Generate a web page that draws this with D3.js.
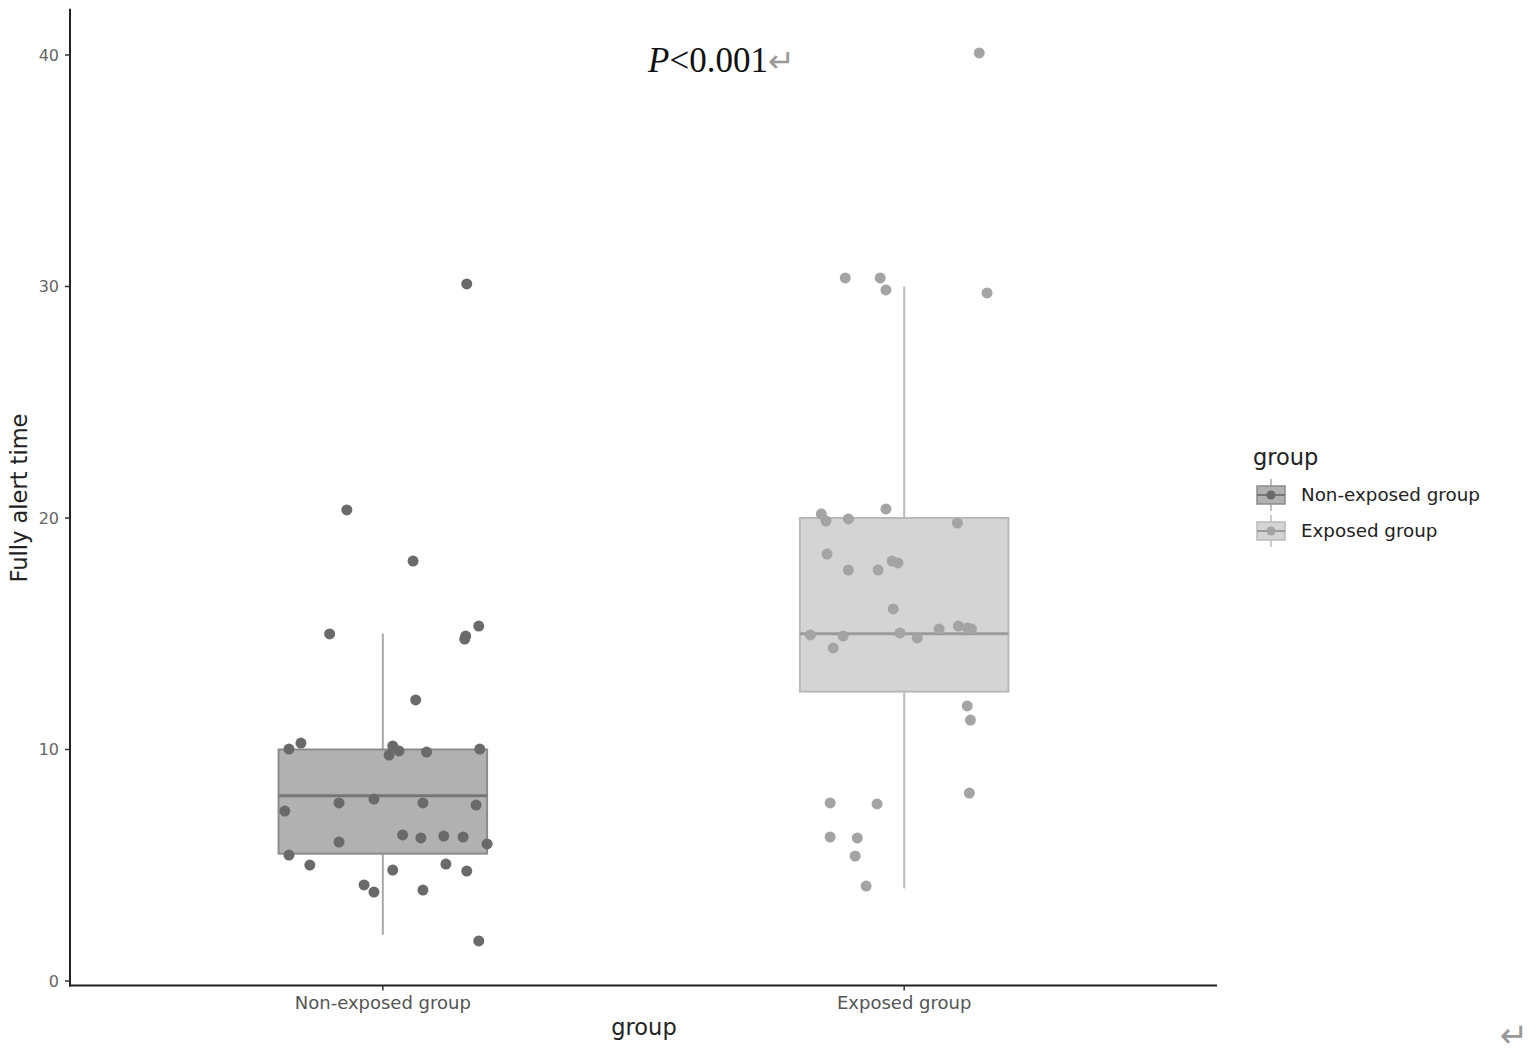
<!DOCTYPE html>
<html><head><meta charset="utf-8">
<script src="https://cdn.jsdelivr.net/npm/d3@7"></script>
<style>body{margin:0;background:#fff}svg{display:block}</style>
</head><body>
<svg id="chart" width="1536" height="1055"></svg>
<script>
const categories = ["Non-exposed group", "Exposed group"];
const yTicks = [0, 10, 20, 30, 40];
// box stats: [lowerWhisker, q1, median, q3, upperWhisker]
const boxNonExposed = [2, 5.5, 8, 10, 15];
const boxExposed = [4, 12.5, 15, 20, 30];
// jittered points: values and horizontal jitter (category units)
const nonExposedValues = [20.35,18.14,14.99,14.9,14.77,15.33,30.11,10.02,10.28,9.76,10.15,9.94,9.89,10.02,12.14,7.69,7.86,7.69,7.6,7.34,6.0,6.31,6.18,6.26,6.22,5.92,5.44,5.01,4.79,5.05,4.75,4.15,3.84,3.93,1.73];
const nonExposedJitter = [-0.069,0.058,-0.102,0.159,0.157,0.184,0.161,-0.180,-0.157,0.012,0.019,0.031,0.084,0.186,0.063,-0.084,-0.017,0.077,0.179,-0.188,-0.084,0.038,0.073,0.117,0.154,0.200,-0.180,-0.140,0.019,0.121,0.161,-0.036,-0.017,0.077,0.184];
const exposedValues = [30.37,30.37,29.85,29.72,40.09,20.39,20.17,19.87,19.96,19.78,18.44,17.75,17.75,18.14,18.06,16.07,14.95,14.9,14.38,15.03,14.82,15.21,15.33,15.25,15.21,11.88,11.27,8.12,7.69,7.65,6.22,6.18,5.4,4.1];
const exposedJitter = [-0.113,-0.046,-0.035,0.159,0.144,-0.035,-0.159,-0.150,-0.107,0.102,-0.148,-0.107,-0.050,-0.023,-0.012,-0.021,-0.180,-0.117,-0.136,-0.008,0.025,0.067,0.104,0.121,0.129,0.121,0.127,0.125,-0.142,-0.052,-0.142,-0.090,-0.094,-0.073];

const groups = [
  {name: categories[0], box: boxNonExposed, values: nonExposedValues, jitter: nonExposedJitter,
   fill: "#b1b1b1", stroke: "#8c8c8c", median: "#767676", whisker: "#a9a9a9", point: "#6a6a6a"},
  {name: categories[1], box: boxExposed, values: exposedValues, jitter: exposedJitter,
   fill: "#d4d4d4", stroke: "#b9b9b9", median: "#9c9c9c", whisker: "#bababa", point: "#a4a4a4"}
];

const svg = d3.select("#chart");
const left = 70, right = 1217;
const x = d3.scaleLinear().domain([0.4, 2.6]).range([left, right]);
const y = d3.scaleLinear().domain([0, 40]).range([981, 55]);
const yMin = -0.19, yMax = 42.0;
const boxHalf = 0.2;
const FONT = "DejaVu Sans, sans-serif";

groups.forEach((g, i) => {
  const cx = x(i + 1);
  const [lw, q1, med, q3, uw] = g.box;
  svg.append("line").attr("x1", cx).attr("x2", cx).attr("y1", y(q3)).attr("y2", y(uw))
    .attr("stroke", g.whisker).attr("stroke-width", 2);
  svg.append("line").attr("x1", cx).attr("x2", cx).attr("y1", y(q1)).attr("y2", y(lw))
    .attr("stroke", g.whisker).attr("stroke-width", 2);
  svg.append("rect").attr("x", x(i + 1 - boxHalf)).attr("width", x(i + 1 + boxHalf) - x(i + 1 - boxHalf))
    .attr("y", y(q3)).attr("height", y(q1) - y(q3))
    .attr("fill", g.fill).attr("stroke", g.stroke).attr("stroke-width", 2);
  svg.append("line").attr("x1", x(i + 1 - boxHalf)).attr("x2", x(i + 1 + boxHalf))
    .attr("y1", y(med)).attr("y2", y(med)).attr("stroke", g.median).attr("stroke-width", 3);
  svg.append("g").selectAll("circle").data(g.values).join("circle")
    .attr("cx", (d, k) => x(i + 1 + g.jitter[k])).attr("cy", d => y(d)).attr("r", 5.5)
    .attr("fill", g.point);
});

const axisColor = "#222";
svg.append("line").attr("x1", left).attr("x2", left).attr("y1", y(yMax)).attr("y2", y(yMin) + 1)
  .attr("stroke", axisColor).attr("stroke-width", 2);
svg.append("line").attr("x1", left - 1).attr("x2", right).attr("y1", y(yMin)).attr("y2", y(yMin))
  .attr("stroke", axisColor).attr("stroke-width", 2);

const yAxis = svg.append("g");
yTicks.forEach(t => {
  yAxis.append("line").attr("x1", left - 5).attr("x2", left).attr("y1", y(t)).attr("y2", y(t))
    .attr("stroke", "#333").attr("stroke-width", 1.5);
  yAxis.append("text").attr("x", left - 11).attr("y", y(t)).attr("dy", "0.36em")
    .attr("text-anchor", "end").attr("font-family", FONT).attr("font-size", 16)
    .attr("fill", "#666").text(t);
});
categories.forEach((c, i) => {
  svg.append("line").attr("x1", x(i + 1)).attr("x2", x(i + 1)).attr("y1", y(yMin)).attr("y2", y(yMin) + 5)
    .attr("stroke", "#333").attr("stroke-width", 1.5);
  svg.append("text").attr("x", x(i + 1)).attr("y", 1009).attr("text-anchor", "middle")
    .attr("font-family", FONT).attr("font-size", 18).attr("fill", "#555").text(c);
});

svg.append("text").attr("x", 644).attr("y", 1035).attr("text-anchor", "middle")
  .attr("font-family", FONT).attr("font-size", 22.5).attr("fill", "#222").text("group");
svg.append("text").attr("transform", "translate(27,498) rotate(-90)").attr("text-anchor", "middle")
  .attr("font-family", FONT).attr("font-size", 22.5).attr("fill", "#222").text("Fully alert time");

const title = svg.append("text").attr("x", 648).attr("y", 72)
  .attr("font-family", "Liberation Serif, serif").attr("font-size", 35).attr("fill", "#111");
title.append("tspan").attr("font-style", "italic").text("P");
title.append("tspan").text("<0.001");
title.append("tspan").attr("fill", "#999").attr("font-size", 32).text("\u21B5");

svg.append("text").attr("x", 1500).attr("y", 1047).attr("font-family", FONT)
  .attr("font-size", 34).attr("fill", "#999").text("\u21B5");

const lg = svg.append("g");
lg.append("text").attr("x", 1253).attr("y", 465).attr("font-family", FONT)
  .attr("font-size", 22.5).attr("fill", "#222").text("group");
groups.forEach((g, i) => {
  const ky = 484 + i * 36;
  const kx = 1257;
  lg.append("line").attr("x1", kx + 14).attr("x2", kx + 14).attr("y1", ky - 5).attr("y2", ky + 27)
    .attr("stroke", g.whisker).attr("stroke-width", 1.5);
  lg.append("rect").attr("x", kx).attr("y", ky + 2).attr("width", 28).attr("height", 18)
    .attr("fill", g.fill).attr("stroke", g.stroke).attr("stroke-width", 1.5);
  lg.append("line").attr("x1", kx).attr("x2", kx + 28).attr("y1", ky + 11).attr("y2", ky + 11)
    .attr("stroke", g.median).attr("stroke-width", 2);
  lg.append("circle").attr("cx", kx + 14).attr("cy", ky + 11).attr("r", 4.5).attr("fill", g.point);
  lg.append("text").attr("x", 1301).attr("y", ky + 17).attr("font-family", FONT)
    .attr("font-size", 18.3).attr("fill", "#222").text(g.name);
});
</script>
</body></html>
